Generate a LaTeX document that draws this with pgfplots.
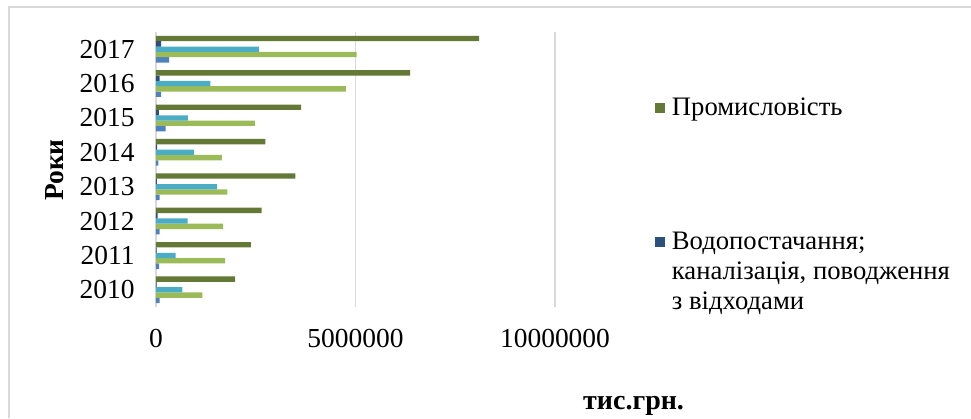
\documentclass[border=0pt]{standalone}
\usepackage{pgfplots}
\pgfplotsset{compat=1.18}
\usepackage{fontspec}
\setmainfont{Liberation Serif}
\definecolor{sBlue}{HTML}{4F81BD}
\definecolor{sLGreen}{HTML}{9BBB59}
\definecolor{sTeal}{HTML}{4BACC6}
\definecolor{sNavy}{HTML}{2C4F7C}
\definecolor{sDGreen}{HTML}{637935}
\definecolor{gridc}{HTML}{D9D9D9}
\pgfplotsset{
  sqlegend/.style={legend image code/.code={\fill[##1,draw=none] (0pt,-3.75pt) rectangle (7.5pt,3.75pt);}},
  sqlegendtop/.style={legend image code/.code={\fill[##1,draw=none] (0pt,18.9pt) rectangle (7.5pt,26.4pt);}},
}
\begin{document}
\begin{tikzpicture}
\useasboundingbox (0,0) rectangle (728.25pt,-313.5pt);
\draw[color=gridc, line width=1.1pt] (6.75pt,-313.5pt) -- (6.75pt,-5.25pt) -- (728.25pt,-5.25pt);
\begin{axis}[
  at={(117pt,-230.25pt)}, anchor=south west,
  scale only axis, width=299.25pt, height=206.25pt,
  xbar, bar width=0.155,
  xmin=0, xmax=10000000, ymin=-0.5, ymax=7.5,
  ytick={0,1,2,3,4,5,6,7},
  yticklabels={2010,2011,2012,2013,2014,2015,2016,2017},
  xtick={0,5000000,10000000},
  xticklabels={0,5000000,10000000},
  scaled x ticks=false,
  major tick length=0pt,
  axis x line*=bottom, axis y line*=left,
  x axis line style={draw=none},
  y axis line style={draw=gridc, line width=1.1pt},
  xmajorgrids, grid style={gridc, line width=1.1pt},
  /pgf/number format/assume math mode=true,
  every tick label/.append style={font=\fontsize{20.6}{24}\selectfont},
  xticklabel style={yshift=-13pt},
  yticklabel style={xshift=-12.5pt},
  xlabel={\textbf{тис.грн.}},
  xlabel style={at={(axis description cs:1.197,-0.36)}, anchor=center, font=\fontsize{21}{24}\selectfont},
  ylabel={\textbf{Роки}},
  ylabel style={at={(axis description cs:-0.253,0.498)}, anchor=center, font=\fontsize{20.6}{24}\selectfont},
  legend style={at={(axis description cs:1.2406,0.771)}, anchor=north west,
    draw=none, fill=none, font=\fontsize{20}{22.5}\selectfont,
    row sep=86pt, column sep=5pt, nodes={inner sep=0pt, align=left}},
  legend cell align=left,
  reverse legend,
]
% 1: blue
\addplot[fill=sBlue, draw=none, bar shift=-0.31, forget plot] coordinates {
(90000,0) (80000,1) (90000,2) (90000,3) (60000,4) (240000,5) (130000,6) (330000,7)};
% 2: light green
\addplot[fill=sLGreen, draw=none, bar shift=-0.155, forget plot] coordinates {
(1160000,0) (1730000,1) (1680000,2) (1790000,3) (1650000,4) (2480000,5) (4760000,6) (5030000,7)};
% 3: teal
\addplot[fill=sTeal, draw=none, bar shift=0, forget plot] coordinates {
(660000,0) (490000,1) (790000,2) (1530000,3) (950000,4) (800000,5) (1360000,6) (2580000,7)};
% 4: navy
\addplot[fill=sNavy, draw=none, bar shift=0.155, sqlegendtop] coordinates {
(15000,0) (15000,1) (40000,2) (20000,3) (30000,4) (70000,5) (90000,6) (130000,7)};
\addlegendentry{Водопостачання;\\каналізація, поводження\\з відходами}
% 5: dark green
\addplot[fill=sDGreen, draw=none, bar shift=0.31, sqlegend] coordinates {
(1980000,0) (2380000,1) (2650000,2) (3490000,3) (2740000,4) (3640000,5) (6370000,6) (8100000,7)};
\addlegendentry{Промисловість}
\end{axis}
\end{tikzpicture}
\end{document}
